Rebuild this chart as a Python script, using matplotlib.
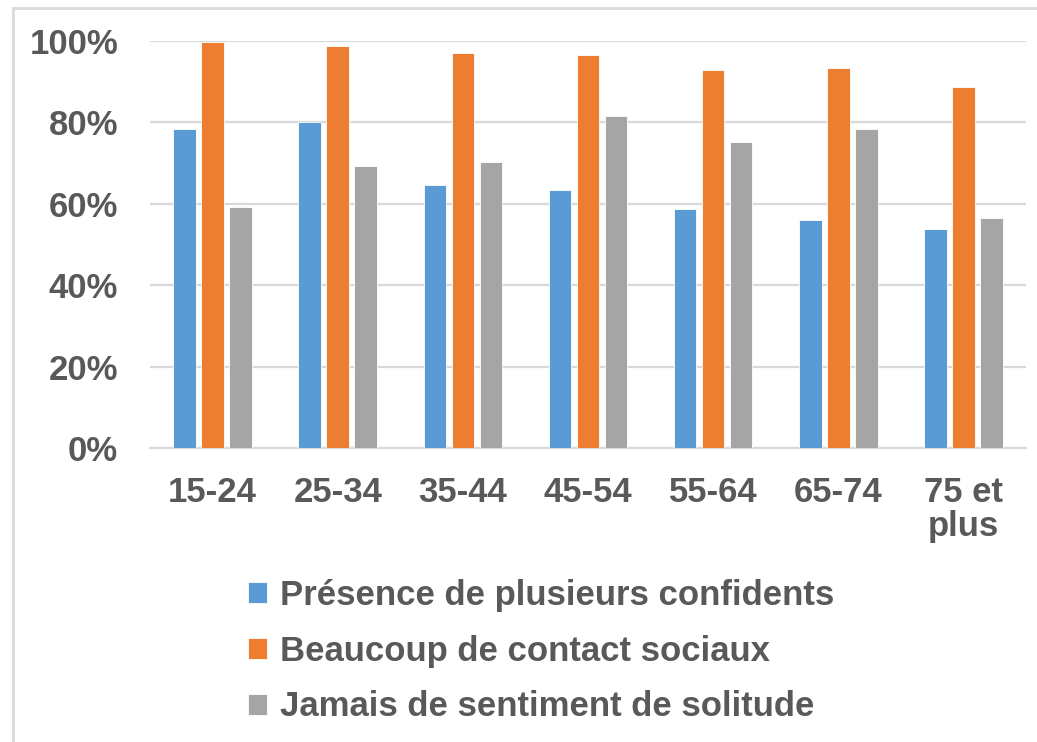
import matplotlib
import matplotlib.pyplot as plt
import numpy as np
from matplotlib.patches import Rectangle
matplotlib.use('Agg')

categories = ["15-24", "25-34", "35-44", "45-54", "55-64", "65-74", "75 et\nplus"]
confidents = [78.4, 80.0, 64.5, 63.4, 58.6, 55.9, 53.7]
contacts = [99.8, 98.8, 97.1, 96.6, 92.9, 93.4, 88.6]
solitude = [59.1, 69.3, 70.3, 81.6, 75.2, 78.4, 56.4]
series_names = ["Présence de plusieurs confidents",
                "Beaucoup de contact sociaux",
                "Jamais de sentiment de solitude"]
yticks = [0, 20, 40, 60, 80, 100]

colors = ["#5b9bd5", "#ed7d31", "#a5a5a5"]
text_color = "#595959"
plt.rcParams['font.family'] = ['Liberation Sans', 'DejaVu Sans']
plt.rcParams['font.weight'] = 'bold'

fig = plt.figure(figsize=(10.37, 7.42), dpi=100)
ax = fig.add_axes([150/1037, 1-448/742, (1026-150)/1037, (448-41)/742])

# outer chart border
fig.patches.append(Rectangle((13/1037, -0.1), 1.2, 1-8/742+0.1, transform=fig.transFigure,
                             fill=False, edgecolor="#d9d9d9", linewidth=2))

x = np.arange(len(categories))
width = 0.18
offset = 0.224
for i, vals in enumerate([confidents, contacts, solitude]):
    ax.bar(x + (i-1)*offset, vals, width, color=colors[i], label=series_names[i],
           edgecolor="white", linewidth=0.6, zorder=3)

ax.set_xlim(-0.5, len(categories)-0.5)
ax.set_ylim(0, 100)
ax.set_yticks(yticks)
ax.set_yticklabels([f"{v}%" for v in yticks])
ax.set_xticks(x)
ax.set_xticklabels(categories, linespacing=1.05, va='top')
ax.tick_params(axis='both', length=0, labelsize=25, colors=text_color)
ax.tick_params(axis='y', pad=23)
ax.tick_params(axis='x', pad=20)
ax.grid(axis='y', color="#d9d9d9", linewidth=1.6, zorder=0)
for s in ['left', 'right', 'top']:
    ax.spines[s].set_visible(False)
ax.spines['bottom'].set_color("#d9d9d9")
ax.spines['bottom'].set_linewidth(1.6)

leg = fig.legend(loc='center left', bbox_to_anchor=(217/1037, 1-651/742), frameon=False,
                 fontsize=25, handlelength=0.55, handleheight=0.55, handletextpad=0.35,
                 labelspacing=0.66)
for t in leg.get_texts():
    t.set_color(text_color)

fig.savefig("out.png", dpi=100)
